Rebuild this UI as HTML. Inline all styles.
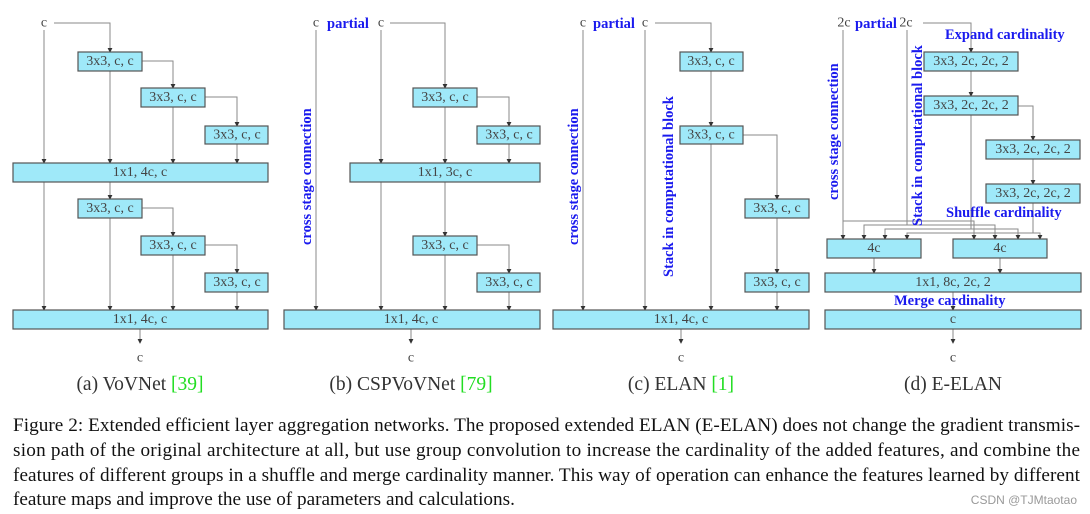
<!DOCTYPE html>
<html><head><meta charset="utf-8"><style>
body{margin:0;background:#fff;width:1090px;height:514px;overflow:hidden}
svg{display:block}
.b{fill:#9fe9f9;stroke:#555;stroke-width:1.2}
.t{font-family:"Liberation Serif",serif;font-size:14px;fill:#444;text-anchor:middle;dominant-baseline:central}
.l{stroke:#8a8a8a;stroke-width:1;fill:none}
.bl{font-family:"Liberation Serif",serif;font-size:14.5px;font-weight:bold;fill:#1a1aee}
.cap{font-family:"Liberation Serif",serif;font-size:19.5px;fill:#333;text-anchor:middle}
.g{fill:#22dd22}
.p{font-family:"Liberation Serif",serif;font-size:19.2px;fill:#111}
</style></head><body>
<svg width="1090" height="514" viewBox="0 0 1090 514">
<defs><marker id="a" viewBox="0 0 6 6" refX="5" refY="3" markerWidth="5" markerHeight="5" orient="auto"><path d="M0,0L6,3L0,6z" fill="#333"/></marker></defs>
<g class="l" marker-end="url(#a)">
<path d="M44,30V163"/><path d="M54,23H110V52"/><path d="M110,71V163"/><path d="M142,61H173V88"/><path d="M173,107V163"/><path d="M205,97H237V126"/><path d="M237,144V163"/>
<path d="M44,182V310"/><path d="M110,182V199"/><path d="M110,218V310"/><path d="M142,208H173V236"/><path d="M173,255V310"/><path d="M205,245H237V273"/><path d="M237,292V310"/><path d="M140,329V343"/>
<path d="M316,30V310"/><path d="M381,30V163"/><path d="M390,23H445V88"/><path d="M445,107V163"/><path d="M477,97H509V126"/><path d="M509,144V163"/>
<path d="M381,182V310"/><path d="M445,182V236"/><path d="M445,255V310"/><path d="M477,245H509V273"/><path d="M509,292V310"/><path d="M411,329V343"/>
<path d="M583,30V310"/><path d="M645,30V310"/><path d="M655,23H711V52"/><path d="M711,71V126"/><path d="M711,144V310"/><path d="M743,135H777V199"/><path d="M777,218V273"/><path d="M777,292V310"/><path d="M681,329V343"/>
<path d="M923,23H971V52"/><path d="M971,71V96"/><path d="M1018,106H1033V140"/><path d="M1033,159V184"/>
<path d="M843,221H974V239"/><path d="M843,30V239"/>
<path d="M907,30V225H864V239"/><path d="M907,225H995V239"/>
<path d="M971,115V229H885V239"/><path d="M971,229H1018V239"/>
<path d="M1033,203V233H907V239"/><path d="M1033,233H1040V239"/>
<path d="M874,258V273"/><path d="M1000,258V273"/><path d="M953,292V310"/><path d="M953,329V343"/>
</g>
<rect class="b" x="78" y="52" width="64" height="19"/><text class="t" x="110" y="61.5">3x3, c, c</text>
<rect class="b" x="141" y="88" width="64" height="19"/><text class="t" x="173" y="97.5">3x3, c, c</text>
<rect class="b" x="205" y="126" width="63" height="18"/><text class="t" x="237" y="135">3x3, c, c</text>
<rect class="b" x="13" y="163" width="255" height="19"/><text class="t" x="140" y="172.5">1x1, 4c, c</text>
<rect class="b" x="78" y="199" width="64" height="19"/><text class="t" x="110" y="208.5">3x3, c, c</text>
<rect class="b" x="141" y="236" width="64" height="19"/><text class="t" x="173" y="245.5">3x3, c, c</text>
<rect class="b" x="205" y="273" width="63" height="19"/><text class="t" x="237" y="282.5">3x3, c, c</text>
<rect class="b" x="13" y="310" width="255" height="19"/><text class="t" x="140" y="319.5">1x1, 4c, c</text>
<text class="t" x="44" y="23">c</text><text class="t" x="140" y="358">c</text>
<text class="cap" x="140" y="390">(a) VoVNet <tspan class="g">[39]</tspan></text>
<rect class="b" x="413" y="88" width="64" height="19"/><text class="t" x="445" y="97.5">3x3, c, c</text>
<rect class="b" x="477" y="126" width="63" height="18"/><text class="t" x="509" y="135">3x3, c, c</text>
<rect class="b" x="350" y="163" width="190" height="19"/><text class="t" x="445" y="172.5">1x1, 3c, c</text>
<rect class="b" x="413" y="236" width="64" height="19"/><text class="t" x="445" y="245.5">3x3, c, c</text>
<rect class="b" x="477" y="273" width="63" height="19"/><text class="t" x="509" y="282.5">3x3, c, c</text>
<rect class="b" x="284" y="310" width="256" height="19"/><text class="t" x="411" y="319.5">1x1, 4c, c</text>
<text class="t" x="316" y="23">c</text><text class="bl" x="327" y="28">partial</text><text class="t" x="381" y="23">c</text>
<text class="bl" transform="translate(311,245) rotate(-90)">cross stage connection</text>
<text class="t" x="411" y="358">c</text>
<text class="cap" x="411" y="390">(b) CSPVoVNet <tspan class="g">[79]</tspan></text>
<rect class="b" x="680" y="52" width="63" height="19"/><text class="t" x="711" y="61.5">3x3, c, c</text>
<rect class="b" x="680" y="126" width="63" height="18"/><text class="t" x="711" y="135">3x3, c, c</text>
<rect class="b" x="745" y="199" width="64" height="19"/><text class="t" x="777" y="208.5">3x3, c, c</text>
<rect class="b" x="745" y="273" width="64" height="19"/><text class="t" x="777" y="282.5">3x3, c, c</text>
<rect class="b" x="553" y="310" width="256" height="19"/><text class="t" x="681" y="319.5">1x1, 4c, c</text>
<text class="t" x="583" y="23">c</text><text class="bl" x="593" y="28">partial</text><text class="t" x="645" y="23">c</text>
<text class="bl" transform="translate(578,245) rotate(-90)">cross stage connection</text>
<text class="bl" transform="translate(673,277) rotate(-90)">Stack in computational block</text>
<text class="t" x="681" y="358">c</text>
<text class="cap" x="681" y="390">(c) ELAN <tspan class="g">[1]</tspan></text>
<text class="bl" x="945" y="39">Expand cardinality</text>
<rect class="b" x="924" y="52" width="94" height="19"/><text class="t" x="971" y="61.5">3x3, 2c, 2c, 2</text>
<rect class="b" x="924" y="96" width="94" height="19"/><text class="t" x="971" y="105.5">3x3, 2c, 2c, 2</text>
<rect class="b" x="986" y="140" width="94" height="19"/><text class="t" x="1033" y="149.5">3x3, 2c, 2c, 2</text>
<rect class="b" x="986" y="184" width="94" height="19"/><text class="t" x="1033" y="193.5">3x3, 2c, 2c, 2</text>
<text class="bl" x="946" y="217">Shuffle cardinality</text>
<rect class="b" x="827" y="239" width="94" height="19"/><text class="t" x="874" y="248.5">4c</text>
<rect class="b" x="953" y="239" width="94" height="19"/><text class="t" x="1000" y="248.5">4c</text>
<rect class="b" x="825" y="273" width="256" height="19"/><text class="t" x="953" y="282.5">1x1, 8c, 2c, 2</text>
<text class="bl" x="894" y="305">Merge cardinality</text>
<rect class="b" x="825" y="310" width="256" height="19"/><text class="t" x="953" y="319.5">c</text>
<text class="t" x="844" y="23">2c</text><text class="bl" x="855" y="28">partial</text><text class="t" x="906" y="23">2c</text>
<text class="bl" transform="translate(838,200) rotate(-90)">cross stage connection</text>
<text class="bl" transform="translate(922,226) rotate(-90)">Stack in computational block</text>
<text class="t" x="953" y="358">c</text>
<text class="cap" x="953" y="390">(d) E-ELAN</text>
<text class="p" x="13" y="431" textLength="1067" lengthAdjust="spacing">Figure 2: Extended efficient layer aggregation networks. The proposed extended ELAN (E-ELAN) does not change the gradient transmis-</text>
<text class="p" x="13" y="456" textLength="1067" lengthAdjust="spacing">sion path of the original architecture at all, but use group convolution to increase the cardinality of the added features, and combine the</text>
<text class="p" x="13" y="481" textLength="1067" lengthAdjust="spacing">features of different groups in a shuffle and merge cardinality manner. This way of operation can enhance the features learned by different</text>
<text class="p" x="13" y="505">feature maps and improve the use of parameters and calculations.</text>
<text x="1077" y="504" text-anchor="end" font-family="Liberation Sans,sans-serif" font-size="12" fill="#999">CSDN @TJMtaotao</text>
</svg>
</body></html>
